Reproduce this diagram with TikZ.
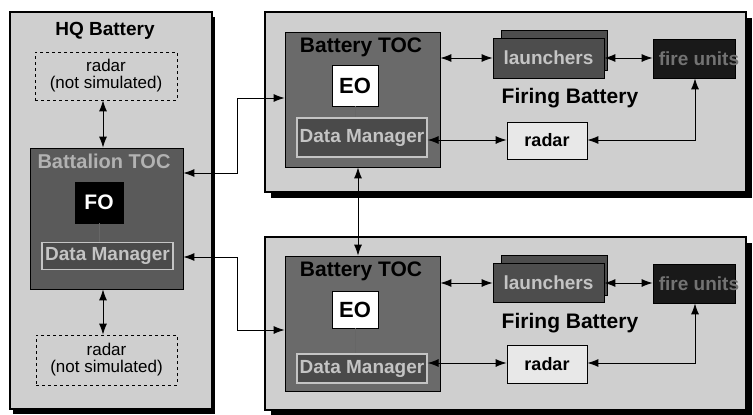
\documentclass[tikz,border=0pt]{standalone}
\usepackage{fontspec}
\setmainfont{Liberation Sans}
\usetikzlibrary{arrows.meta}
\newcommand\myfs[1]{\fontsize{#1}{#1}\selectfont}
\definecolor{panelbg}{HTML}{CFCFCF}
\definecolor{tocA}{HTML}{6A6A6A}
\definecolor{tocB}{HTML}{5A5A5A}
\definecolor{dmfill}{HTML}{4A4A4A}
\definecolor{dmtext}{HTML}{C4C4C4}
\definecolor{launch}{HTML}{4D4D4D}
\definecolor{radarfill}{HTML}{E8E8E8}
\tikzset{
  box/.style={draw=black,line width=0.8pt,inner sep=0pt,rectangle},
  panel/.style={box,fill=panelbg,line width=1.2pt},
  dashbox/.style={box,dashed,fill=panelbg,align=center,font=\myfs{17}},
  tocbox/.style={box,fill=tocA},
  dmbox/.style={box,fill=dmfill,draw=dmtext,line width=1.2pt,text=dmtext,font=\bfseries\myfs{19}},
  eobox/.style={box,fill=white,font=\bfseries\myfs{22}},
  fobox/.style={box,fill=black,text=white,font=\bfseries\myfs{21}},
  lbox/.style={box,fill=launch,text=dmtext,font=\bfseries\myfs{19}},
  fubox/.style={box,fill=black!90,text=black!55,font=\bfseries\myfs{19}},
  rbox/.style={box,fill=radarfill,font=\bfseries\myfs{18}},
  title/.style={font=\bfseries\myfs{20},inner sep=0pt},
  dbl/.style={{Latex[length=11pt,width=8pt]}-{Latex[length=11pt,width=8pt]},line width=0.9pt},
  thin/.style={line width=0.5pt,draw=black!60}
}
\begin{document}
\begin{tikzpicture}[x=1pt,y=-1pt]
\useasboundingbox[fill=white] (0,0) rectangle (753,415);
% ---------- HQ Battery panel
\fill[black] (13,17) rectangle (215,414);
\node[panel,minimum width=202pt,minimum height=397pt] (hq) at (111,210.5) {};
\node[title,font=\bfseries\myfs{19}] (hqt) at (105,31) {HQ Battery};
\node[dashbox,minimum width=142pt,minimum height=48pt] (rad1) at (106,76) {radar\\(not simulated)};
\node[dashbox,minimum width=141pt,minimum height=50pt] (rad2) at (106.5,360) {radar\\(not simulated)};
\node[box,fill=tocB,minimum width=153pt,minimum height=141pt] (batoc) at (106.5,218.5) {};
\node[title,text=black!30,font=\bfseries\myfs{20}] (batoct) at (104,161) {Battalion TOC};
\node[fobox,minimum width=48pt,minimum height=41pt] (fo) at (99,202.5) {FO};
\node[dmbox,minimum width=131pt,minimum height=27pt] (dm0) at (107.5,256) {Data Manager};
\draw[thin] (fo.south) -- (fo.south |- dm0.north);
\draw[dbl] (rad1.south -| 103,0) -- (batoc.north -| 103,0);
\draw[dbl] (batoc.south -| 103,0) -- (rad2.north -| 103,0);
% ---------- Firing battery panels
\fill[black] (271,18) rectangle (752,198);
\fill[black] (271,243) rectangle (752,416);
\node[panel,minimum width=481pt,minimum height=180pt] (fbA) at (505.5,102) {};
\node[panel,minimum width=481pt,minimum height=173pt] (fbB) at (505.5,323.5) {};
% top battery
\node[tocbox,minimum width=155pt,minimum height=135pt] (tocA) at (362.5,99.5) {};
\node[title,font=\bfseries\myfs{21}] (tocAt) at (361,47) {Battery TOC};
\node[eobox,minimum width=46pt,minimum height=41pt] (eoA) at (355,85.5) {EO};
\node[dmbox,minimum width=130pt,minimum height=39pt] (dmA) at (362,137.5) {Data Manager};
\draw[thin] (eoA.south) -- (eoA.south |- dmA.north);
\node[box,fill=launch,minimum width=106pt,minimum height=40pt] (lbA) at (554,50) {};
\node[lbox,minimum width=111pt,minimum height=40pt] (lA) at (548.5,58) {launchers};
\node[fubox,minimum width=82pt,minimum height=39pt] (fuA) at (694,58.5) {};
\node[text=black!55,font=\bfseries\myfs{19},inner sep=0pt] (fuAt) at (699,58.5) {fire units};
\node[title,font=\bfseries\myfs{21}] (fbAt) at (570,98) {Firing Battery};
\node[rbox,minimum width=80pt,minimum height=37pt] (rA) at (547,140.5) {radar};
\draw[dbl] (tocA.east |- 0,58) -- (lA.west |- 0,58);
\draw[dbl] (lA.east |- 0,58) -- (fuA.west |- 0,58);
\draw[dbl] (dmA.east |- 0,140) -- (rA.west |- 0,140);
\draw[dbl] (fuA.south -| 695,0) |- (rA.east |- 0,140);
% bottom battery
\node[tocbox,minimum width=155pt,minimum height=135pt] (tocB) at (362.5,323.5) {};
\node[title,font=\bfseries\myfs{21}] (tocBt) at (361,271) {Battery TOC};
\node[eobox,minimum width=46pt,minimum height=37pt] (eoB) at (355,309.5) {EO};
\node[dmbox,minimum width=130pt,minimum height=29pt] (dmB) at (362,368.5) {Data Manager};
\draw[thin] (eoB.south) -- (eoB.south |- dmB.north);
\node[box,fill=launch,minimum width=106pt,minimum height=40pt] (lbB) at (554,275) {};
\node[lbox,minimum width=111pt,minimum height=39pt] (lB) at (548.5,282.5) {launchers};
\node[fubox,minimum width=82pt,minimum height=39pt] (fuB) at (694,283.5) {};
\node[text=black!55,font=\bfseries\myfs{19},inner sep=0pt] (fuBt) at (699,283.5) {fire units};
\node[title,font=\bfseries\myfs{21}] (fbBt) at (570,323) {Firing Battery};
\node[rbox,minimum width=80pt,minimum height=38pt] (rB) at (547,364) {radar};
\draw[dbl] (tocB.east |- 0,283) -- (lB.west |- 0,283);
\draw[dbl] (lB.east |- 0,283) -- (fuB.west |- 0,283);
\draw[dbl] (dmB.east |- 0,363) -- (rB.west |- 0,363);
\draw[dbl] (fuB.south -| 695,0) |- (rB.east |- 0,363);
% between batteries
\draw[dbl] (tocA.south -| 358,0) -- (tocB.north -| 358,0);
% HQ to batteries
\coordinate (j1) at (237,173);
\coordinate (j2) at (237,257);
\draw[dbl] (batoc.east |- j1) -- (j1) |- (tocA.west |- 0,98);
\draw[dbl] (batoc.east |- j2) -- (j2) |- (tocB.west |- 0,330);
\end{tikzpicture}
\end{document}
